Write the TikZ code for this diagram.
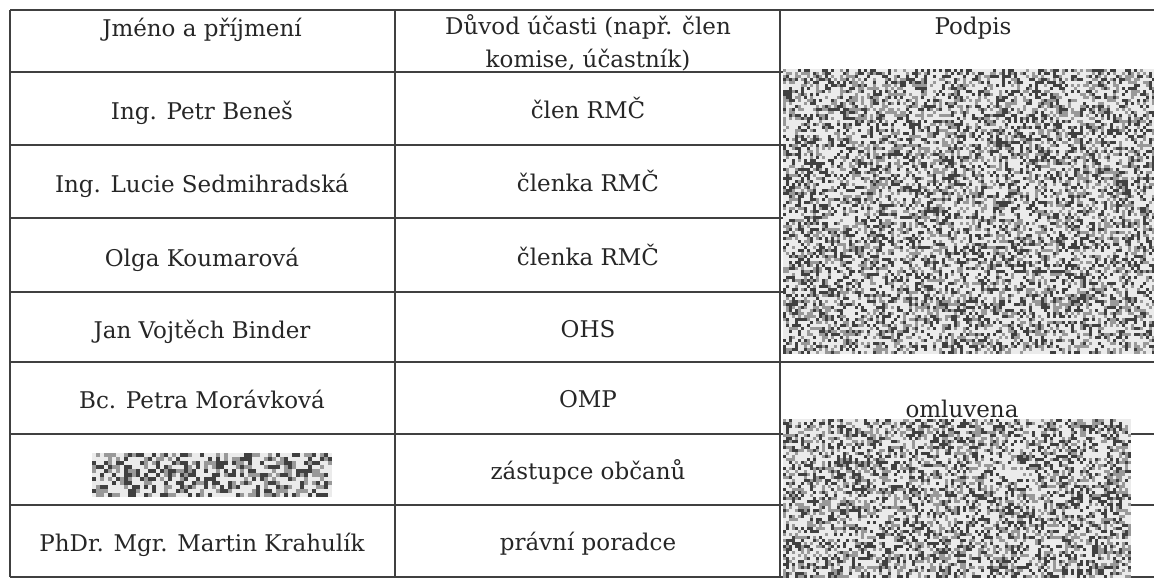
\documentclass[tikz,border=0pt]{standalone}
\usepackage{fontspec}
\setmainfont{DejaVu Serif}

\begin{document}
\begin{tikzpicture}
  [x=1pt,y=-1pt,every node/.style={text=black!85, font=\fontsize{23}{33}\selectfont, align=center, anchor=base, inner sep=0pt},
   rule/.style={draw=black!75, line width=1.3pt},
   dark/.style={fill=black!75}, mid/.style={fill=black!40}]
  \useasboundingbox (0,0) rectangle (1154,578);
  \pgfmathsetseed{4242}

  % grid
  \foreach \y in {10,72,145,218,292,362,434,505,577}
    \draw[rule] (10,\y) -- (1154,\y);
  \foreach \x in {10,395,780}
    \draw[rule] (\x,10) -- (\x,577);

  % header
  \node (hname) at (202,37) {Jméno a příjmení};
  \node (hrole) at (588,68) {Důvod účasti (např. člen\\komise, účastník)};
  \node (hsign) at (973,35) {Podpis};

  % rows
  \node (n1) at (202,119) {Ing. Petr Beneš};
  \node (n2) at (202,192) {Ing. Lucie Sedmihradská};
  \node (n3) at (202,266) {Olga Koumarová};
  \node (n4) at (202,338) {Jan Vojtěch Binder};
  \node (n5) at (202,408) {Bc. Petra Morávková};
  \node (n7) at (202,551) {PhDr. Mgr. Martin Krahulík};
  \node (r1) at (588,118) {člen RMČ};
  \node (r2) at (588,191) {členka RMČ};
  \node (r3) at (588,265) {členka RMČ};
  \node (r4) at (588,337) {OHS};
  \node (r5) at (588,407) {OMP};
  \node (r6) at (588,479) {zástupce občanů};
  \node (r7) at (588,550) {právní poradce};
  \node (excused) at (962,417) {omluvena};

  % redacted signatures and name
  \foreach \px/\py/\w/\h/\c in {783/69/124/95/3, 783/419/116/53/3, 92/453/60/11/4} {
    \fill[black!8] (\px,\py) rectangle ++(\w*\c,\h*\c);
    \foreach \i in {1,...,\w}
      \foreach \j in {1,...,\h} {
        \pgfmathsetmacro{\r}{rnd}
        \ifdim\r pt<0.25pt
          \fill[dark] (\px+\i*\c-\c,\py+\j*\c-\c) rectangle ++(\c,\c);
        \else\ifdim\r pt<0.5pt
          \fill[mid] (\px+\i*\c-\c,\py+\j*\c-\c) rectangle ++(\c,\c);
        \fi\fi
      }
  }

\end{tikzpicture}
\end{document}
